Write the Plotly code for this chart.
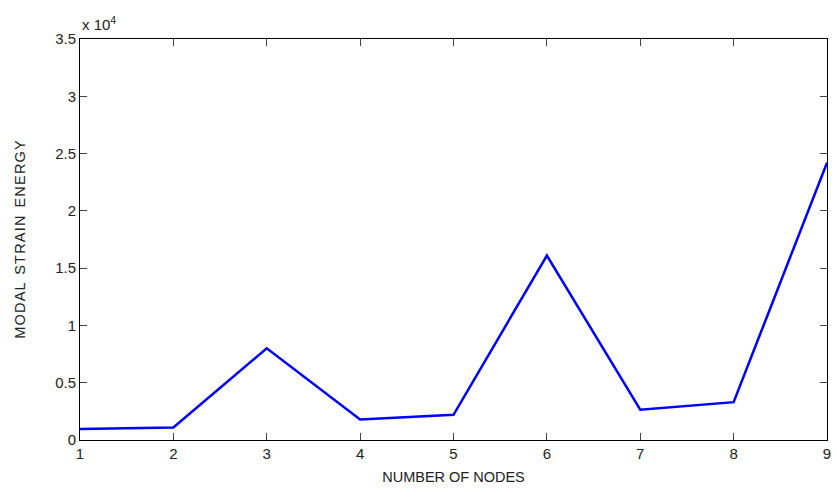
import plotly.graph_objects as go

nodes = [1, 2, 3, 4, 5, 6, 7, 8, 9]
strain_energy = [950, 1100, 8000, 1800, 2200, 16100, 2650, 3300, 24200]
y_tick_vals = [0, 5000, 10000, 15000, 20000, 25000, 30000, 35000]
y_tick_text = ["0", "0.5", "1", "1.5", "2", "2.5", "3", "3.5"]

fig = go.Figure()
fig.add_trace(go.Scatter(x=nodes, y=strain_energy, mode="lines",
                         line=dict(color="#0000ff", width=2.5)))

axis_common = dict(showline=True, linecolor="black", linewidth=1, mirror="ticks",
                   ticks="inside", ticklen=7, tickcolor="#444", showgrid=False,
                   zeroline=False, tickfont=dict(size=15, color="#222"))

fig.update_layout(
    width=836, height=492,
    margin=dict(l=80, r=5, t=39, b=52),
    paper_bgcolor="white", plot_bgcolor="white",
    font=dict(family="Liberation Sans, Arial, sans-serif", color="#222"),
    showlegend=False,
    xaxis=dict(range=[1, 9], tickvals=nodes, ticktext=[str(n) for n in nodes],
               title=dict(text="NUMBER OF NODES", font=dict(size=14.5), standoff=10),
               **axis_common),
    yaxis=dict(range=[0, 35000], tickvals=y_tick_vals, ticktext=y_tick_text,
               title=dict(text="M\u200aO\u200aD\u200aA\u200aL  S\u200aT\u200aR\u200aA\u200aI\u200aN  E\u200aN\u200aE\u200aR\u200aG\u200aY",
                          font=dict(size=14.5), standoff=26),
               **axis_common),
)
fig.add_annotation(xref="paper", yref="paper", x=0, y=1, xanchor="left", yanchor="bottom",
                   text="x 10<sup>4</sup>", showarrow=False, font=dict(size=15, color="#222"),
                   yshift=4)

fig.write_html("out.html", config={"displayModeBar": False},
               post_script="document.documentElement.style.margin='0';"
                           "document.body.style.margin='0';"
                           "document.body.style.overflow='hidden';")
